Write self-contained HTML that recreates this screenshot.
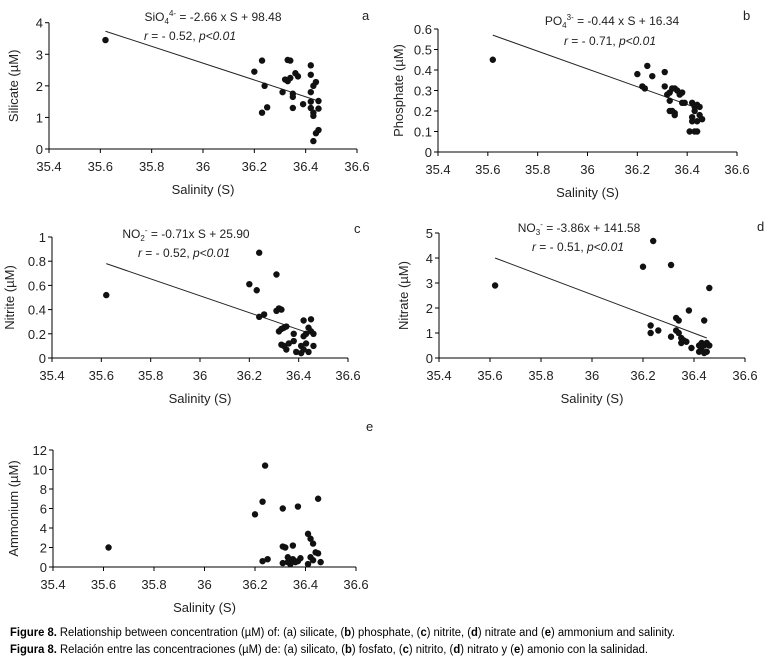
<!DOCTYPE html>
<html><head><meta charset="utf-8"><style>
html,body{margin:0;padding:0;background:#fff;}
svg{display:block;font-family:"Liberation Sans",Arial,sans-serif;}
</style></head><body>
<svg id="fig" width="770" height="660" viewBox="0 0 770 660" xmlns="http://www.w3.org/2000/svg">
<g id="panels"></g>
<text x="10" y="636" font-size="11.5" textLength="665" lengthAdjust="spacingAndGlyphs"><tspan font-weight="bold">Figure 8.</tspan> Relationship between concentration (µM) of: (a) silicate, (<tspan font-weight="bold">b</tspan>) phosphate, (<tspan font-weight="bold">c</tspan>) nitrite, (<tspan font-weight="bold">d</tspan>) nitrate and (<tspan font-weight="bold">e</tspan>) ammonium and salinity.</text>
<text x="10" y="653" font-size="11.5" textLength="638" lengthAdjust="spacingAndGlyphs"><tspan font-weight="bold">Figura 8.</tspan> Relación entre las concentraciones (µM) de: (a) silicato, (<tspan font-weight="bold">b</tspan>) fosfato, (<tspan font-weight="bold">c</tspan>) nitrito, (<tspan font-weight="bold">d</tspan>) nitrato y (<tspan font-weight="bold">e</tspan>) amonio con la salinidad.</text>
</svg>
<script>
const xTicks = [35.4, 35.6, 35.8, 36, 36.2, 36.4, 36.6];
const xTickLabels = ["35.4","35.6","35.8","36","36.2","36.4","36.6"];

const silicateX = [35.62,36.2,36.23,36.24,36.23,36.25,36.31,36.32,36.33,36.34,36.33,36.34,36.35,36.35,36.35,36.36,36.37,36.39,36.42,36.42,36.42,36.43,36.44,36.42,36.42,36.43,36.43,36.45,36.45,36.43,36.44,36.45];
const silicateY = [3.45,2.45,2.8,2.0,1.15,1.32,1.8,2.2,2.82,2.8,2.15,2.25,1.75,1.65,1.3,2.4,2.3,1.42,1.8,2.65,2.35,2.0,2.12,1.5,1.3,1.15,1.05,1.52,1.28,0.25,0.5,0.6];
const silicateLineX = [35.62, 36.45];
const silicateLineY = [3.73, 1.52];
const silicateTicks = [0,1,2,3,4];

const phosphateX = [35.62,36.2,36.22,36.23,36.24,36.26,36.31,36.31,36.32,36.33,36.34,36.33,36.33,36.35,36.34,36.35,36.35,36.36,36.37,36.38,36.39,36.38,36.42,36.42,36.42,36.41,36.43,36.44,36.43,36.43,36.44,36.45,36.45,36.46,36.44];
const phosphateY = [0.45,0.38,0.32,0.31,0.42,0.37,0.39,0.32,0.28,0.29,0.31,0.25,0.2,0.19,0.2,0.18,0.31,0.3,0.28,0.29,0.24,0.24,0.24,0.17,0.15,0.1,0.1,0.1,0.2,0.22,0.15,0.22,0.18,0.16,0.23];
const phosphateLineX = [35.62, 36.45];
const phosphateLineY = [0.57, 0.21];
const phosphateTicks = [0,0.1,0.2,0.3,0.4,0.5,0.6];

const nitriteX = [35.62,36.2,36.23,36.24,36.24,36.26,36.31,36.31,36.32,36.33,36.32,36.33,36.34,36.35,36.33,36.34,36.35,36.36,36.38,36.38,36.39,36.41,36.41,36.42,36.42,36.43,36.43,36.44,36.44,36.45,36.45,36.46,36.46,36.42];
const nitriteY = [0.52,0.61,0.56,0.87,0.34,0.36,0.69,0.39,0.41,0.4,0.22,0.24,0.25,0.26,0.11,0.1,0.07,0.12,0.14,0.2,0.05,0.1,0.04,0.31,0.18,0.2,0.12,0.25,0.05,0.22,0.32,0.2,0.1,0.07];
const nitriteLineX = [35.62, 36.45];
const nitriteLineY = [0.78, 0.2];
const nitriteTicks = [0,0.2,0.4,0.6,0.8,1];

const nitrateX = [35.62,36.2,36.23,36.23,36.24,36.26,36.31,36.31,36.33,36.34,36.33,36.34,36.35,36.35,36.36,36.37,36.38,36.39,36.42,36.42,36.43,36.43,36.44,36.44,36.45,36.45,36.46,36.46,36.44];
const nitrateY = [2.9,3.65,1.3,1.0,4.68,1.1,3.72,0.85,1.6,1.5,1.1,1.0,0.8,0.6,0.7,0.65,1.9,0.4,0.5,0.25,0.6,0.3,1.5,0.5,0.6,0.25,2.8,0.5,0.2];
const nitrateLineX = [35.62, 36.45];
const nitrateLineY = [4.0, 0.8];
const nitrateTicks = [0,1,2,3,4,5];

const ammoniumX = [35.62,36.2,36.23,36.24,36.23,36.25,36.31,36.31,36.32,36.31,36.33,36.33,36.34,36.35,36.35,36.36,36.37,36.37,36.38,36.41,36.41,36.42,36.42,36.43,36.44,36.45,36.45,36.46,36.43];
const ammoniumY = [2,5.4,6.7,10.4,0.6,0.8,6.0,2.1,2.0,0.4,1.0,0.5,0.3,2.2,0.8,0.5,6.2,0.6,0.9,3.4,0.3,1.0,2.9,2.4,1.5,7.0,1.4,0.5,0.7];
const ammoniumLineX = [];
const ammoniumLineY = [];
const ammoniumTicks = [0,2,4,6,8,10,12];

const NS = "http://www.w3.org/2000/svg";
const root = document.getElementById("panels");
function mk(tag, attrs, parent) {
  const e = document.createElementNS(NS, tag);
  for (const k in attrs) e.setAttribute(k, attrs[k]);
  parent.appendChild(e);
  return e;
}
function panel(cfg) {
  const g = mk("g", {}, root);
  
  
  const ymax = cfg.ticks[cfg.ticks.length - 1];
  const sx = v => cfg.x0 + (v - 35.4) / 1.2 * (cfg.x1 - cfg.x0);
  const sy = v => cfg.yb - v / ymax * (cfg.yb - cfg.yt);
  // axes
  const ax = mk("line", {x1: cfg.x0, y1: cfg.yt, x2: cfg.x0, y2: cfg.yb, stroke: "#000", "stroke-width": 1}, g);
  
  
  const bx = mk("line", {x1: cfg.x0, y1: cfg.yb, x2: cfg.x1, y2: cfg.yb, stroke: "#000", "stroke-width": 1}, g);
  
  
  xTicks.forEach((t, i) => {
    const x = sx(t);
    mk("line", {x1: x, y1: cfg.yb, x2: x, y2: cfg.yb + 4, stroke: "#000"}, g);
    const tx = mk("text", {x: x, y: cfg.yb + 22, "font-size": 13, "text-anchor": "middle", fill: "#222"}, g);
    
    
    tx.textContent = xTickLabels[i];
  });
  cfg.ticks.forEach(t => {
    const y = sy(t);
    mk("line", {x1: cfg.x0 - 4, y1: y, x2: cfg.x0, y2: y, stroke: "#000"}, g);
    const tx = mk("text", {x: cfg.x0 - 6, y: y + 5, "font-size": 13, "text-anchor": "end", fill: "#222"}, g);
    
    
    tx.textContent = String(t);
  });
  const xt = mk("text", {x: (cfg.x0 + cfg.x1) / 2, y: cfg.yb + 45, "font-size": 13, "text-anchor": "middle", fill: "#222"}, g);
  
  
  xt.textContent = "Salinity (S)";
  const yc = (cfg.yt + cfg.yb) / 2;
  const yt = mk("text", {x: cfg.ytx, y: yc, "font-size": 13, "text-anchor": "middle", fill: "#222", transform: "rotate(-90 " + cfg.ytx + " " + yc + ")"}, g);
  
  
  yt.textContent = cfg.ytitle;
  if (cfg.lx.length) {
    const ln = mk("line", {x1: sx(cfg.lx[0]), y1: sy(cfg.ly[0]), x2: sx(cfg.lx[1]), y2: sy(cfg.ly[1]), stroke: "#222", "stroke-width": 1}, g);
    
    
  }
  cfg.xs.forEach((v, i) => {
    const c = mk("circle", {cx: sx(v), cy: sy(cfg.ys[i]), r: 3.2, fill: "#111"}, g);
    
    
  });
  const lb = mk("text", {x: cfg.lab[0], y: cfg.lab[1], "font-size": 13, fill: "#222"}, g);
  
  
  lb.textContent = cfg.key.charAt(0) === 's' ? 'a' : cfg.letter;
  if (cfg.eq) {
    const e1 = mk("text", {x: cfg.eq[0], y: cfg.eq[1], "font-size": 12, "text-anchor": "middle", fill: "#222"}, g);
    
    
    e1.innerHTML = cfg.eqHtml;
    const e2 = mk("text", {x: cfg.eq[2], y: cfg.eq[3], "font-size": 12, "text-anchor": "middle", fill: "#222"}, g);
    
    
    e2.innerHTML = cfg.rHtml;
  }
}
panel({key:"silicate", letter:"a", x0:49, x1:357, yt:22.7, yb:149, ticks:silicateTicks, xs:silicateX, ys:silicateY, lx:silicateLineX, ly:silicateLineY, ytitle:"Silicate (µM)", ytx:18, lab:[362,20],
  eq:[213,21,190,40], eqHtml:'SiO<tspan font-size="8" dy="3">4</tspan><tspan font-size="8" dy="-8">4-</tspan><tspan dy="5"> = -2.66 x S + 98.48</tspan>', rHtml:'<tspan font-style="italic">r</tspan> = - 0.52, <tspan font-style="italic">p&lt;0.01</tspan>'});
panel({key:"phosphate", letter:"b", x0:438, x1:737, yt:29, yb:152, ticks:phosphateTicks, xs:phosphateX, ys:phosphateY, lx:phosphateLineX, ly:phosphateLineY, ytitle:"Phosphate (µM)", ytx:403, lab:[743,20],
  eq:[612,25,610,45], eqHtml:'PO<tspan font-size="8" dy="3">4</tspan><tspan font-size="8" dy="-8">3-</tspan><tspan dy="5"> = -0.44 x S + 16.34</tspan>', rHtml:'<tspan font-style="italic">r</tspan>  = - 0.71, <tspan font-style="italic">p&lt;0.01</tspan>'});
panel({key:"nitrite", letter:"c", x0:52, x1:348, yt:237, yb:358, ticks:nitriteTicks, xs:nitriteX, ys:nitriteY, lx:nitriteLineX, ly:nitriteLineY, ytitle:"Nitrite (µM)", ytx:14, lab:[354,233],
  eq:[186,238,184,257], eqHtml:'NO<tspan font-size="8" dy="3">2</tspan><tspan font-size="8" dy="-8">-</tspan><tspan dy="5"> = -0.71x S + 25.90</tspan>', rHtml:'<tspan font-style="italic">r</tspan> = - 0.52, <tspan font-style="italic">p&lt;0.01</tspan>'});
panel({key:"nitrate", letter:"d", x0:439, x1:745, yt:233, yb:358, ticks:nitrateTicks, xs:nitrateX, ys:nitrateY, lx:nitrateLineX, ly:nitrateLineY, ytitle:"Nitrate (µM)", ytx:408, lab:[757,231],
  eq:[579,232,578,251], eqHtml:'NO<tspan font-size="8" dy="3">3</tspan><tspan font-size="8" dy="-8">-</tspan><tspan dy="5"> = -3.86x + 141.58</tspan>', rHtml:'<tspan font-style="italic">r</tspan> =  - 0.51, <tspan font-style="italic">p&lt;0.01</tspan>'});
panel({key:"ammonium", letter:"e", x0:53, x1:356, yt:450, yb:567, ticks:ammoniumTicks, xs:ammoniumX, ys:ammoniumY, lx:ammoniumLineX, ly:ammoniumLineY, ytitle:"Ammonium (µM)", ytx:18, lab:[366,431]});
</script>
</body></html>
